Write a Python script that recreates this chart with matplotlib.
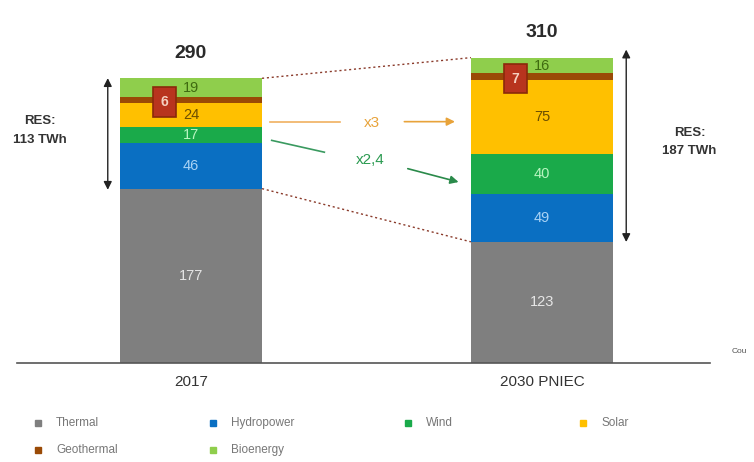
import matplotlib.pyplot as plt

plt.rcParams["font.family"] = ["Liberation Sans", "DejaVu Sans"]

years = ["2017", "2030 PNIEC"]
sources = ["Thermal", "Hydropower", "Wind", "Solar", "Geothermal", "Bioenergy"]
thermal = [177, 123]
hydro = [46, 49]
wind = [17, 40]
solar = [24, 75]
geo = [6, 7]
bio = [19, 16]
totals = [290, 310]
res = ["113 TWh", "187 TWh"]

colors = ["#7f7f7f", "#0a6fc2", "#1aaa4a", "#ffc000", "#9a4a06", "#8fce4c"]
label_colors = ["#e6e6e6", "#a9d3f5", "#b8f5c0", "#6b4e00", None, "#3f6b10"]

# figure laid out in pixel-like units: x in bar index, y in TWh
fig = plt.figure(figsize=(7.54, 4.62), dpi=100)
ax = fig.add_axes([0, 0, 1, 1])
ax.set_xlim(-0.544, 1.604)
ax.set_ylim(-100.5, 368.5)
ax.axis("off")

xs = [0, 1]
w = 0.405
series = [thermal, hydro, wind, solar, geo, bio]
bottoms = [0, 0]
mids = []
for vals, c in zip(series, colors):
    ax.bar(xs, vals, width=w, bottom=bottoms, color=c, linewidth=0)
    mids.append([b + v / 2 for b, v in zip(bottoms, vals)])
    bottoms = [b + v for b, v in zip(bottoms, vals)]

for i, x in enumerate(xs):
    for k, vals in enumerate(series):
        if sources[k] == "Geothermal":
            continue
        ax.text(x, mids[k][i], str(vals[i]), ha="center", va="center",
                fontsize=10.5, color=label_colors[k])
    # geothermal value in a boxed tag
    ax.text(x - 0.075, mids[4][i] - 2, str(geo[i]), ha="center", va="center",
            fontsize=10, color="#f5d0c0", fontweight="bold",
            bbox=dict(boxstyle="square,pad=0.55", fc="#b8341e", ec="#8a2a0a", lw=1.2))
    ax.text(x, bottoms[i] + 17, str(totals[i]), ha="center", va="bottom",
            fontsize=14, fontweight="bold", color="#2a2a2a")
    ax.text(x, -12, years[i], ha="center", va="top", fontsize=11, color="#333333")

# baseline
ax.plot([-0.496, 1.478], [0, 0], color="#555555", lw=1.2)
ax.text(1.54, 12, "Cou", fontsize=6, color="#555555", va="center")

# dotted connectors between bars
top0, top1 = sum(s[0] for s in series), sum(s[1] for s in series)
ax.plot([w / 2, 1 - w / 2], [top0, top1], ls=(0, (1.5, 2)), color="#8a3a2a", lw=1)
ax.plot([w / 2, 1 - w / 2], [thermal[0], thermal[1]], ls=(0, (1.5, 2)), color="#8a3a2a", lw=1)

# RES double arrows
ax.annotate("", xy=(-0.237, top0 + 3), xytext=(-0.237, thermal[0] - 4),
            arrowprops=dict(arrowstyle="<|-|>", color="#222222", lw=1, mutation_scale=12))
ax.text(-0.43, 236, "RES:\n" + res[0], ha="center", va="center", fontsize=9.5,
        fontweight="bold", color="#333333", linespacing=1.7)
ax.annotate("", xy=(1.24, top1 + 11), xytext=(1.24, thermal[1] - 3),
            arrowprops=dict(arrowstyle="<|-|>", color="#222222", lw=1, mutation_scale=12))
ax.text(1.42, 224, "RES:\n" + res[1], ha="center", va="center", fontsize=9.5,
        fontweight="bold", color="#333333", linespacing=1.7)

# growth arrows
ax.plot([0.225, 0.425], [245, 245], color="#f0b060", lw=1.2)
ax.text(0.515, 244, "x3", ha="center", va="center", fontsize=11, color="#e8a33a")
ax.annotate("", xy=(0.76, 245), xytext=(0.6, 245),
            arrowprops=dict(arrowstyle="-|>", color="#e8a33a", lw=1.2, mutation_scale=12))
ax.plot([0.23, 0.38], [226, 214], color="#3a9a60", lw=1.2)
ax.text(0.51, 206, "x2,4", ha="center", va="center", fontsize=11, color="#2a9a50")
ax.annotate("", xy=(0.77, 183), xytext=(0.61, 198),
            arrowprops=dict(arrowstyle="-|>", color="#2a8a4a", lw=1.2, mutation_scale=12))

# legend in two rows
leg_x = [-0.436, 0.063, 0.618, 1.117]
for k, name in enumerate(sources):
    row, col = divmod(k, 4)
    y = -61 - row * 27
    ax.plot(leg_x[col], y, marker="s", ms=4, color=colors[k], ls="none")
    ax.text(leg_x[col] + 0.052, y, name, va="center", fontsize=8.5, color="#777777")

fig.savefig("out.png", dpi=100)
